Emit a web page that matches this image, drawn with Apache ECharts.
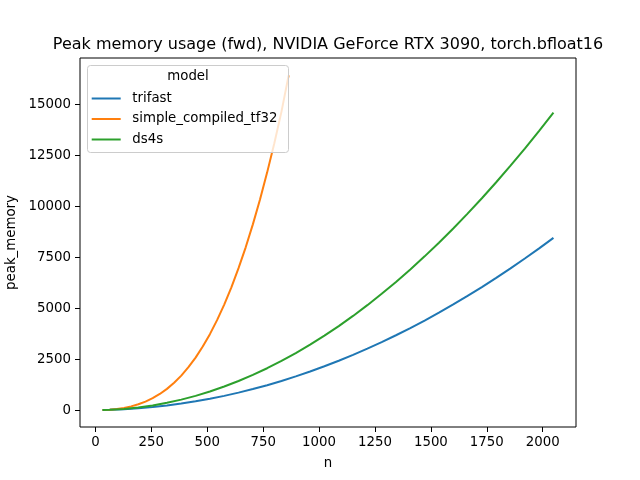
<!DOCTYPE html>
<html>
<head>
<meta charset="utf-8">
<title>Peak memory usage</title>
<script src="https://cdn.jsdelivr.net/npm/echarts@6/dist/echarts.min.js"></script>
<style>
  html, body { margin: 0; padding: 0; background: #fff; }
  #chart { width: 640px; height: 480px; }
</style>
</head>
<body>
<div id="chart"></div>
<script>
// n values (sequence length)
const nValues = [32, 64, 128, 192, 256, 320, 384, 448, 512, 576, 640, 704, 768, 832, 896, 960,
  1024, 1088, 1152, 1216, 1280, 1344, 1408, 1472, 1536, 1600, 1664, 1728, 1792, 1856, 1920, 1984, 2048]
const nCompiled = [32, 64, 96, 128, 160, 192, 224, 256, 288, 320, 352, 384, 416, 448, 480, 512,
  544, 576, 608, 640, 672, 704, 736, 768, 800, 832, 864]

// peak_memory
const trifast = [4, 13, 41, 86, 148, 225, 319, 429, 555, 697, 856, 1031, 1222, 1429, 1652, 1892,
  2148, 2420, 2708, 3013, 3334, 3671, 4024, 4393, 4779, 5181, 5599, 6033, 6484, 6951, 7433, 7933, 8448]
const simpleCompiled = [4, 18, 55, 105, 180, 285, 415, 590, 790, 1040, 1340, 1690, 2105, 2575, 3115, 3725,
  4411, 5175, 6023, 6960, 7984, 9110, 10330, 11660, 13092, 14640, 16420]
const ds4s = [4, 14, 57, 128, 228, 356, 513, 698, 912, 1155, 1425, 1725, 2053, 2409, 2794, 3207,
  3649, 4119, 4618, 5146, 5702, 6286, 6899, 7540, 8210, 8909, 9636, 10391, 11175, 11988, 12829, 13698, 14596]

const xTicks = [0, 250, 500, 750, 1000, 1250, 1500, 1750, 2000]
const yTicks = [0, 2500, 5000, 7500, 10000, 12500, 15000]

const font = 'DejaVu Sans'
const fs = 13.33

function pairs(xs, ys) {
  return ys.map((v, i) => [xs[i], v])
}

function line(name, xs, ys, color) {
  return {
    name: name,
    type: 'line',
    data: pairs(xs, ys),
    showSymbol: false,
    symbol: 'none',
    color: color,
    lineStyle: { width: 2, color: color },
    animation: false
  }
}

function axis(name, min, max, ticks, gap) {
  return {
    type: 'value',
    min: min,
    max: max,
    name: name,
    nameLocation: 'middle',
    nameGap: gap,
    nameTextStyle: { fontFamily: font, fontSize: fs, color: '#000' },
    axisLine: { show: false, onZero: false },
    splitLine: { show: false },
    axisTick: { show: true, length: 5, lineStyle: { color: '#000', width: 1 }, customValues: ticks },
    axisLabel: {
      fontFamily: font, fontSize: fs, color: '#000', margin: 9, customValues: ticks,
      formatter: v => String(v)
    }
  }
}

const chart = echarts.init(document.getElementById('chart'))

chart.setOption({
  backgroundColor: '#fff',
  animation: false,
  title: {
    text: 'Peak memory usage (fwd), NVIDIA GeForce RTX 3090, torch.bfloat16',
    left: 328,
    textAlign: 'center',
    top: 37,
    padding: 0,
    textStyle: { fontFamily: font, fontSize: 16, fontWeight: 'normal', color: '#000' }
  },
  grid: {
    left: 80,
    right: 64,
    top: 58,
    bottom: 53,
    containLabel: false,
    outerBoundsMode: 'none',
    show: true,
    borderColor: '#000',
    borderWidth: 1,
    backgroundColor: 'transparent'
  },
  xAxis: axis('n', -68.8, 2148.8, xTicks, 30),
  yAxis: axis('peak_memory', -830, 17270, yTicks, 50),
  legend: {
    data: ['trifast', 'simple_compiled_tf32', 'ds4s'],
    orient: 'vertical',
    left: 91.7,
    top: 91,
    padding: 0,
    itemGap: 5.5,
    itemWidth: 29,
    itemHeight: 2,
    icon: 'rect',
    z: 20,
    textStyle: { fontFamily: font, fontSize: fs, color: '#000', lineHeight: 15, padding: [0, 0, 0, 6.6] }
  },
  graphic: [
    {
      type: 'rect',
      z: 10,
      shape: { x: 87.5, y: 65.5, width: 201, height: 87, r: 3 },
      style: { fill: 'rgba(255,255,255,0.8)', stroke: '#cccccc', lineWidth: 1 }
    },
    {
      type: 'text',
      z: 11,
      x: 188,
      y: 77,
      style: { text: 'model', font: fs + 'px "' + font + '"', fill: '#000', textAlign: 'center', textVerticalAlign: 'middle' }
    }
  ],
  series: [
    line('trifast', nValues, trifast, '#1f77b4'),
    line('simple_compiled_tf32', nCompiled, simpleCompiled, '#ff7f0e'),
    line('ds4s', nValues, ds4s, '#2ca02c')
  ]
})
</script>
</body>
</html>
